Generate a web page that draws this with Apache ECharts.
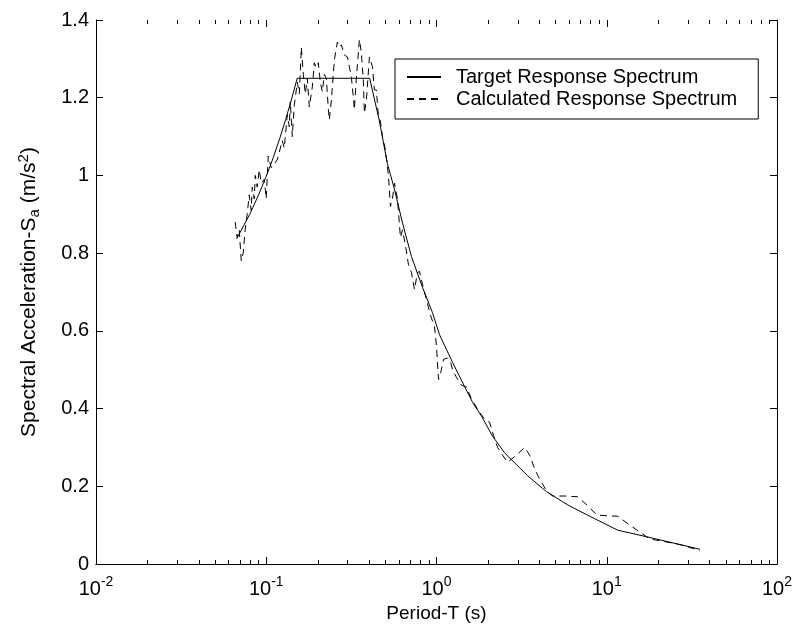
<!DOCTYPE html>
<html>
<head>
<meta charset="utf-8">
<script src="https://cdn.jsdelivr.net/npm/echarts@6/dist/echarts.min.js"></script>
<style>html,body{margin:0;padding:0;background:#fff;}#chart{width:799px;height:629px;}</style>
</head>
<body>
<div id="chart"></div>
<script>
const FONT = '"Liberation Sans", Arial, Helvetica, sans-serif';

const targetT = [0.067,0.08,0.09,0.1,0.11,0.12,0.13,0.14,0.152,0.405,0.462,0.515,0.566,0.631,0.713,0.827,0.947,1.042,1.242,1.461,1.629,1.84,2.135,2.512,3.43,4.43,5.9,7.94,11.6,17.2,35.2];
const targetSa = [0.837,0.900,0.949,0.998,1.046,1.095,1.144,1.192,1.25,1.25,1.14,1.03,0.965,0.878,0.791,0.712,0.647,0.59,0.519,0.457,0.416,0.38,0.329,0.286,0.227,0.186,0.152,0.123,0.087,0.070,0.038];

const calcT = [0.0657,0.0675,0.0694,0.0713,0.0732,0.0752,0.0773,0.0794,0.0816,0.0827,0.0850,0.0862,0.0885,0.0910,0.0935,0.0973,0.100,0.1027,0.1070,0.1114,0.1160,0.1193,0.1242,0.1276,0.1329,0.1366,0.1384,0.1422,0.1461,0.1522,0.1564,0.1607,0.1651,0.1696,0.1743,0.1790,0.1865,0.1916,0.1969,0.2023,0.2078,0.2135,0.2194,0.2254,0.2316,0.2348,0.2412,0.2512,0.2616,0.2688,0.2762,0.2876,0.2996,0.3078,0.3162,0.3249,0.3293,0.3383,0.3524,0.3621,0.3720,0.3771,0.3875,0.4036,0.4203,0.4318,0.4437,0.4559,0.4684,0.4813,0.5012,0.5220,0.5363,0.5511,0.5662,0.5897,0.6141,0.6310,0.6572,0.6844,0.7128,0.7423,0.7731,0.7943,0.8272,0.85,0.8852,0.9219,0.9732,1.0,1.027,1.056,1.100,1.161,1.209,1.242,1.311,1.403,1.502,1.607,1.790,1.942,2.050,2.164,2.285,2.445,2.616,2.762,2.996,3.293,3.524,3.771,4.036,4.437,4.813,5.662,6.750,7.731,8.736,10.14,11.61,13.66,16.29,17.9,20.50,26.88,35.24];
const calcSa = [0.88,0.84,0.86,0.78,0.80,0.86,0.90,0.95,0.91,0.97,0.94,1.00,0.97,1.015,0.98,0.99,0.94,1.05,1.02,1.03,1.04,1.06,1.09,1.07,1.156,1.125,1.19,1.10,1.18,1.24,1.21,1.33,1.26,1.21,1.25,1.176,1.228,1.29,1.277,1.29,1.24,1.215,1.26,1.25,1.17,1.143,1.194,1.297,1.343,1.33,1.336,1.31,1.305,1.28,1.253,1.20,1.169,1.25,1.35,1.315,1.24,1.16,1.194,1.305,1.28,1.22,1.22,1.15,1.14,1.10,1.066,1.00,0.92,0.94,0.98,0.94,0.84,0.86,0.82,0.77,0.75,0.706,0.75,0.753,0.72,0.70,0.67,0.64,0.611,0.56,0.475,0.49,0.527,0.53,0.52,0.50,0.48,0.46,0.455,0.424,0.39,0.37,0.365,0.33,0.30,0.28,0.262,0.27,0.283,0.30,0.28,0.245,0.218,0.188,0.175,0.175,0.173,0.15,0.126,0.124,0.123,0.10,0.077,0.064,0.060,0.050,0.035];

const seriesNames = ['Target Response Spectrum', 'Calculated Response Spectrum'];
const xMin = 0.01, xMax = 100;
const yMin = 0, yMax = 1.4, yStep = 0.2;
const xMajorTicks = [0.01, 0.1, 1, 10, 100];
const xMinorTicks = [];
for (let e = -2; e < 2; e++) {
  for (let k = 2; k <= 9; k++) xMinorTicks.push(k * Math.pow(10, e));
}
const xTickData = xMajorTicks.map(v => [v, 7]).concat(xMinorTicks.map(v => [v, 4]));

const chart = echarts.init(document.getElementById('chart'), null, {renderer: 'canvas'});

const axisLineStyle = {show: true, lineStyle: {color: '#000', width: 1}};
const tickStyle = {show: true, inside: true, length: 7, lineStyle: {color: '#000', width: 1}};

const option = {
  animation: false,
  backgroundColor: '#fff',
  textStyle: {fontFamily: FONT},
  grid: {left: 96, right: 22, top: 20, bottom: 65, containLabel: false},
  legend: {
    data: seriesNames,
    orient: 'vertical',
    left: 395,
    top: 59,
    itemWidth: 34,
    itemHeight: 14,
    itemGap: 2,
    padding: [8, 21, 10, 11],
    borderColor: '#000',
    borderWidth: 1,
    borderRadius: 0,
    backgroundColor: '#fff',
    selectedMode: false,
    itemStyle: {color: 'rgba(0,0,0,0)', borderWidth: 0, opacity: 0},
    textStyle: {fontSize: 20, color: '#000', fontFamily: FONT, padding: [0, 0, 0, 10]}
  },
  xAxis: [
    {
      type: 'log', logBase: 10, min: xMin, max: xMax, position: 'bottom',
      axisLine: axisLineStyle, axisTick: {show: false}, splitLine: {show: false},
      axisLabel: {
        show: true, margin: 11, color: '#000', showMinLabel: true, showMaxLabel: true,
        formatter: function (v) { return '{b|10}{s|' + Math.round(Math.log10(v)) + '}'; },
        rich: {
          b: {fontSize: 20, fontFamily: FONT, color: '#000'},
          s: {fontSize: 14, fontFamily: FONT, color: '#000', padding: [0, 0, 14, 0]}
        }
      },
      name: 'Period-T (s)', nameLocation: 'middle', nameGap: 38,
      nameTextStyle: {fontSize: 19, color: '#000', fontFamily: FONT}
    },
    {
      type: 'log', logBase: 10, min: xMin, max: xMax, position: 'top',
      axisLine: axisLineStyle, axisTick: {show: false}, axisLabel: {show: false}, splitLine: {show: false}
    }
  ],
  yAxis: [
    {
      type: 'value', min: yMin, max: yMax, interval: yStep, position: 'left',
      axisLine: axisLineStyle, axisTick: tickStyle, splitLine: {show: false},
      axisLabel: {fontSize: 20, color: '#000', margin: 7, fontFamily: FONT},
      name: 'Spectral Acceleration-S{sub|a} (m/s{sup|2})',
      nameLocation: 'middle', nameGap: 54, nameRotate: 90,
      nameTextStyle: {
        fontSize: 21, color: '#000', fontFamily: FONT,
        rich: {
          sub: {fontSize: 15, fontFamily: FONT, color: '#000', padding: [11, 0, 0, 0]},
          sup: {fontSize: 15, fontFamily: FONT, color: '#000', padding: [0, 0, 11, 0]}
        }
      }
    },
    {
      type: 'value', min: yMin, max: yMax, interval: yStep, position: 'right',
      axisLine: axisLineStyle, axisTick: tickStyle, axisLabel: {show: false}, splitLine: {show: false}
    }
  ],
  series: [
    {
      name: seriesNames[0], type: 'line', xAxisIndex: 0, yAxisIndex: 0,
      data: targetT.map((t, i) => [t, targetSa[i]]),
      symbol: 'none', showSymbol: false, smooth: false,
      lineStyle: {color: '#000', width: 1, type: 'solid'},
      itemStyle: {color: '#000'}, z: 3
    },
    {
      name: seriesNames[1], type: 'line', xAxisIndex: 0, yAxisIndex: 0,
      data: calcT.map((t, i) => [t, calcSa[i]]),
      symbol: 'none', showSymbol: false, smooth: false,
      lineStyle: {color: '#000', width: 1, type: [7, 5]},
      itemStyle: {color: '#000'}, z: 2
    },
    {
      name: 'xTicks', type: 'custom', xAxisIndex: 0, yAxisIndex: 0,
      data: xTickData, silent: true, clip: false, z: 5,
      encode: {x: 0},
      renderItem: function (params, api) {
        const v = api.value(0);
        const len = api.value(1);
        const b = api.coord([v, yMin]);
        const t = api.coord([v, yMax]);
        const x = Math.round(b[0]) + 0.5;
        return {
          type: 'group',
          children: [
            {type: 'line', shape: {x1: x, y1: b[1], x2: x, y2: b[1] - len}, style: {stroke: '#000', lineWidth: 1}},
            {type: 'line', shape: {x1: x, y1: t[1], x2: x, y2: t[1] + len}, style: {stroke: '#000', lineWidth: 1}}
          ]
        };
      }
    }
  ]
};
chart.setOption(option);
</script>
</body>
</html>
